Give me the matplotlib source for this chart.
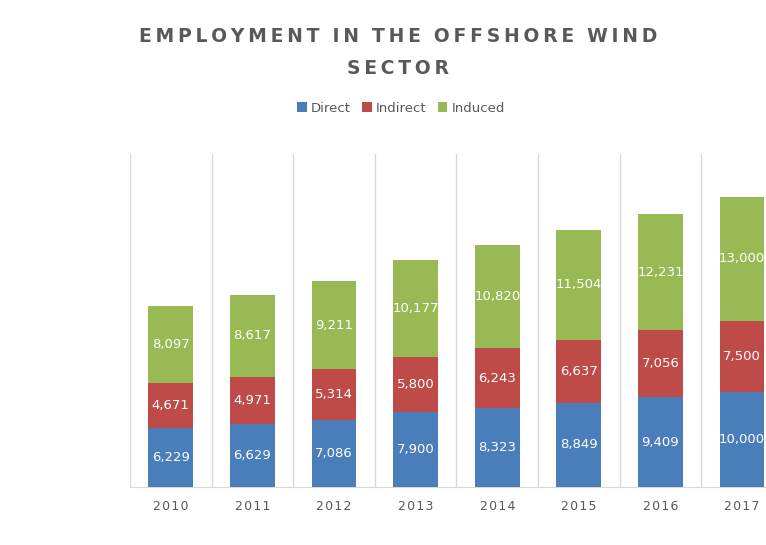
import matplotlib
matplotlib.use('Agg')
import matplotlib.pyplot as plt
import numpy as np

years = ['2010', '2011', '2012', '2013', '2014', '2015', '2016', '2017']
direct = [6229, 6629, 7086, 7900, 8323, 8849, 9409, 10000]
indirect = [4671, 4971, 5314, 5800, 6243, 6637, 7056, 7500]
induced = [8097, 8617, 9211, 10177, 10820, 11504, 12231, 13000]

series = [('Direct', direct, '#4a7ebb'),
          ('Indirect', indirect, '#be4b48'),
          ('Induced', induced, '#98b954')]


def spaced(s, gap='\u2009'):
    # rough letter spacing like the Excel title style
    return '  '.join(gap.join(w) for w in s.split(' '))


fig = plt.figure(figsize=(7.66, 5.45), dpi=100)
# axes extend past the right edge, the reference is a cropped screenshot
ax = fig.add_axes([130 / 766, 58 / 545, 8 * 81.6 / 766, 333 / 545])

x = np.arange(len(years))
bottom = np.zeros(len(years))
for name, vals, col in series:
    ax.bar(x, vals, width=0.55, bottom=bottom, color=col, label=name, zorder=3)
    for xi, b, v in zip(x, bottom, vals):
        ax.text(xi, b + v / 2, f'{v:,}', ha='center', va='center',
                color='white', fontsize=9.5, zorder=4)
    bottom += np.array(vals)

ax.set_xlim(-0.5, len(years) - 0.5)
ax.set_ylim(0, 35000)
ax.set_xticks(x)
ax.set_xticklabels([spaced(y, '\u200a') for y in years], color='#595959', fontsize=9)
ax.set_xticks(np.arange(-0.5, len(years)), minor=True)
ax.tick_params(axis='x', which='both', length=0, pad=9)
ax.set_yticks([])
ax.grid(which='minor', axis='x', color='#d9d9d9', linewidth=1, zorder=0)
for s in ['top', 'right', 'left']:
    ax.spines[s].set_visible(False)
ax.spines['bottom'].set_color('#d9d9d9')

fig.text(398 / 766, 1 - 37 / 545, spaced('EMPLOYMENT IN THE OFFSHORE WIND'),
         ha='center', va='center', fontsize=13.5, fontweight='bold', color='#595959')
fig.text(398 / 766, 1 - 68 / 545, spaced('SECTOR'),
         ha='center', va='center', fontsize=13.5, fontweight='bold', color='#595959')

fig.legend(loc='center', bbox_to_anchor=(401 / 766, 1 - 108 / 545), ncol=3, frameon=False,
           fontsize=9.5, handlelength=0.7, handleheight=0.7, handletextpad=0.3,
           columnspacing=0.9, labelcolor='#595959')

fig.savefig('out.png', dpi=100)
